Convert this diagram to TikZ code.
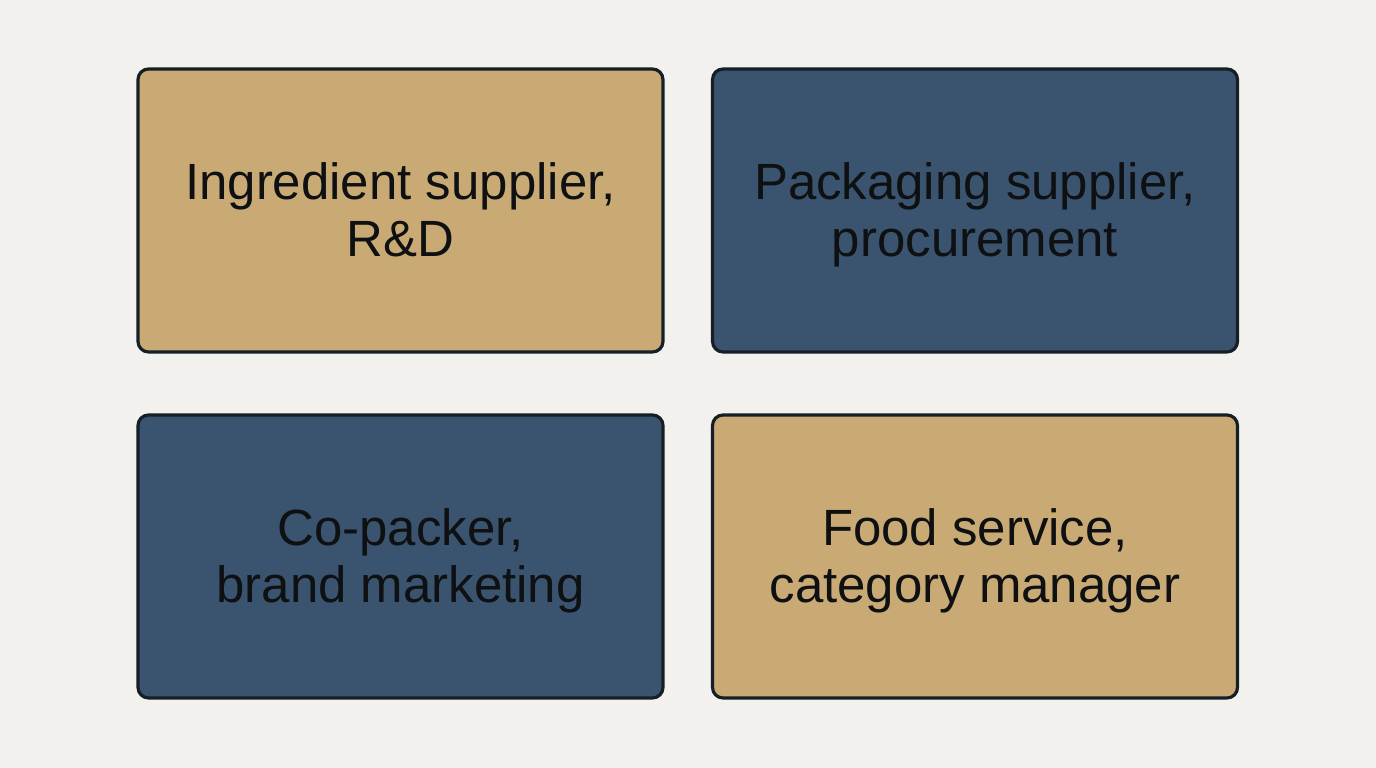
\documentclass[tikz,border=0pt]{standalone}
\usepackage[RGB]{xcolor}
\usepackage{fontspec}
\setmainfont{Liberation Sans}
\definecolor{paper}{RGB}{242,241,238}
\definecolor{sand}{RGB}{201,170,116}
\definecolor{navy}{RGB}{58,83,111}
\definecolor{edge}{RGB}{22,30,38}
\definecolor{ink}{RGB}{14,16,18}
\tikzset{
  rolebox/.style={draw=edge, line width=0.9pt, rounded corners=3pt,
    minimum width=5.25cm, minimum height=2.83cm, align=center,
    text=ink, font=\fontsize{14.5}{16.2}\selectfont}
}
\newcommand{\rolenode}[6]{\node[rolebox, fill=#2] (#1) at (#3,#4)
  {\rule{0pt}{13.4pt}#5\\#6\rule[-3.4pt]{0pt}{0pt}};}
\begin{document}
\begin{tikzpicture}
\fill[paper] (0,0) rectangle (13.76,7.68);
\useasboundingbox (0,0) rectangle (13.76,7.68);
\rolenode{ingredient}{sand}{4.005}{5.575}{Ingredient supplier,}{R\&D}
\rolenode{packaging}{navy}{9.75}{5.575}{Packaging supplier,}{procurement}
\rolenode{copacker}{navy}{4.005}{2.115}{Co-packer,}{brand marketing}
\rolenode{foodservice}{sand}{9.75}{2.115}{Food service,}{category manager}
\end{tikzpicture}
\end{document}
